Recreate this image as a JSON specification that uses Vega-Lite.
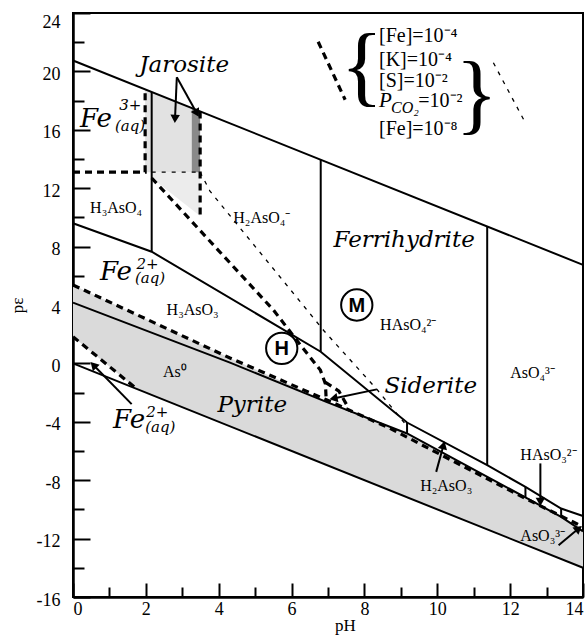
{
  "$schema": "https://vega.github.io/schema/vega-lite/v6.json",
  "width": 510,
  "height": 584,
  "autosize": {"type": "none"},
  "padding": {"left": 73, "top": 13, "right": 5, "bottom": 47},
  "background": "white",
  "config": {
    "view": {"stroke": "black", "strokeWidth": 2},
    "axis": {"domainColor": "black", "domainWidth": 2.5, "tickColor": "black", "tickWidth": 2, "labelColor": "black", "titleColor": "black", "grid": false, "labelFont": "Liberation Serif", "titleFont": "Liberation Serif", "labelFontSize": 18, "titleFontSize": 17, "titleFontWeight": "normal", "labelOverlap": false, "zindex": 1}
  },
  "datasets": {
    "pyr": [
      {"x": 0, "y": 5.37, "y2": 1.83},
      {"x": 1.75, "y": 3.34, "y2": -1.75},
      {"x": 4.31, "y": 0.37, "y2": -4.31},
      {"x": 6.97, "y": -2.6, "y2": -6.97},
      {"x": 9.17, "y": -4.8, "y2": -9.17},
      {"x": 12.42, "y": -9.18, "y2": -12.42},
      {"x": 13.4, "y": -10.51, "y2": -13.4},
      {"x": 14, "y": -11.5, "y2": -14}
    ],
    "jl": [{"x": 1.98, "y": 18.77, "y2": 13.1}, {"x": 3.26, "y": 17.49, "y2": 13.1}],
    "jd": [{"x": 3.26, "y": 17.49, "y2": 13.1}, {"x": 3.49, "y": 17.26, "y2": 13.1}],
    "jlow": [{"x": 2.16, "y": 13.1, "y2": 12.7}, {"x": 3.49, "y": 13.1, "y2": 10.1}],
    "solid": [
      {"id": "top", "o": 0, "x": 0, "y": 20.75}, {"id": "top", "o": 1, "x": 14, "y": 6.75},
      {"id": "water", "o": 0, "x": 0, "y": 0}, {"id": "water", "o": 1, "x": 14, "y": -14},
      {"id": "as5", "o": 0, "x": 0, "y": 9.6}, {"id": "as5", "o": 1, "x": 2.16, "y": 7.65}, {"id": "as5", "o": 2, "x": 6.8, "y": 0.8}, {"id": "as5", "o": 3, "x": 9.17, "y": -4.05}, {"id": "as5", "o": 4, "x": 11.37, "y": -6.97}, {"id": "as5", "o": 5, "x": 12.42, "y": -8.46}, {"id": "as5", "o": 6, "x": 13.4, "y": -9.94}, {"id": "as5", "o": 7, "x": 14, "y": -10.45},
      {"id": "as0", "o": 0, "x": 0, "y": 4.16}, {"id": "as0", "o": 1, "x": 4.31, "y": 0.05}, {"id": "as0", "o": 2, "x": 6.97, "y": -2.65}, {"id": "as0", "o": 3, "x": 9.17, "y": -4.8}, {"id": "as0", "o": 4, "x": 12.42, "y": -9.18}, {"id": "as0", "o": 5, "x": 13.4, "y": -10.51}, {"id": "as0", "o": 6, "x": 14, "y": -11.5},
      {"id": "v1", "o": 0, "x": 2.16, "y": 18.59}, {"id": "v1", "o": 1, "x": 2.16, "y": 7.65},
      {"id": "v2", "o": 0, "x": 6.8, "y": 13.95}, {"id": "v2", "o": 1, "x": 6.8, "y": 0.8},
      {"id": "v3", "o": 0, "x": 11.37, "y": 9.38}, {"id": "v3", "o": 1, "x": 11.37, "y": -6.97},
      {"id": "v4", "o": 0, "x": 9.17, "y": -4.05}, {"id": "v4", "o": 1, "x": 9.17, "y": -4.8},
      {"id": "v5", "o": 0, "x": 12.42, "y": -8.46}, {"id": "v5", "o": 1, "x": 12.42, "y": -9.18},
      {"id": "v6", "o": 0, "x": 13.4, "y": -9.94}, {"id": "v6", "o": 1, "x": 13.4, "y": -10.51}
    ],
    "thick": [
      {"id": "fe3", "o": 0, "x": 0, "y": 13.1}, {"id": "fe3", "o": 1, "x": 1.98, "y": 13.1}, {"id": "fe3", "o": 2, "x": 1.98, "y": 18.77},
      {"id": "jr", "o": 0, "x": 3.49, "y": 17.26}, {"id": "jr", "o": 1, "x": 3.49, "y": 10.1},
      {"id": "diag", "o": 0, "x": 2.16, "y": 12.7}, {"id": "diag", "o": 1, "x": 5.5, "y": 3.66}, {"id": "diag", "o": 2, "x": 6.28, "y": 1.14}, {"id": "diag", "o": 3, "x": 6.79, "y": -0.46}, {"id": "diag", "o": 4, "x": 6.93, "y": -1.4}, {"id": "diag", "o": 5, "x": 6.95, "y": -2.5},
      {"id": "sid", "o": 0, "x": 6.93, "y": -1.3}, {"id": "sid", "o": 1, "x": 7.3, "y": -1.9}, {"id": "sid", "o": 2, "x": 7.55, "y": -3.0},
      {"id": "pyt", "o": 0, "x": 0, "y": 5.37}, {"id": "pyt", "o": 1, "x": 4.31, "y": 0.37}, {"id": "pyt", "o": 2, "x": 6.97, "y": -2.51}, {"id": "pyt", "o": 3, "x": 8.7, "y": -4.45}, {"id": "pyt", "o": 4, "x": 12.42, "y": -9.25}, {"id": "pyt", "o": 5, "x": 13.84, "y": -11.0}, {"id": "pyt", "o": 6, "x": 14, "y": -11.2},
      {"id": "pyl", "o": 0, "x": 0, "y": 1.83}, {"id": "pyl", "o": 1, "x": 1.75, "y": -1.75},
      {"id": "leg", "o": 0, "x": 6.73, "y": 22.03}, {"id": "leg", "o": 1, "x": 7.47, "y": 18.06}
    ],
    "thin": [
      {"id": "jh", "o": 0, "x": 2.16, "y": 13.1}, {"id": "jh", "o": 1, "x": 3.49, "y": 13.1},
      {"id": "td", "o": 0, "x": 3.49, "y": 13.1}, {"id": "td", "o": 1, "x": 3.76, "y": 11.8}, {"id": "td", "o": 2, "x": 5.69, "y": 5.9}, {"id": "td", "o": 3, "x": 6.9, "y": 2.2}, {"id": "td", "o": 4, "x": 8.35, "y": -1.8}, {"id": "td", "o": 5, "x": 9.17, "y": -4.3},
      {"id": "leg2", "o": 0, "x": 11.54, "y": 20.59}, {"id": "leg2", "o": 1, "x": 12.42, "y": 16.47}
    ],
    "arrows": [
      {"x": 2.8, "y": 16.75, "x2": 2.85, "y2": 19.6},
      {"x": 3.4, "y": 17.14, "x2": 2.85, "y2": 19.6},
      {"x": 7.15, "y": -2.4, "x2": 8.34, "y2": -1.78},
      {"x": 0.56, "y": -0.11, "x2": 1.61, "y2": -2.79},
      {"x": 10.17, "y": -5.6, "x2": 9.97, "y2": -7.43},
      {"x": 12.83, "y": -9.49, "x2": 12.83, "y2": -6.85},
      {"x": 13.88, "y": -11.31, "x2": 13.33, "y2": -12.45}
    ],
    "circles": [{"x": 5.73, "y": 1.03, "t": "H"}, {"x": 7.79, "y": 4.0, "t": "M"}],
    "ital": [
      {"x": 3.05, "y": 19.93, "t": "Jarosite"},
      {"x": 9.09, "y": 7.98, "t": "Ferrihydrite"},
      {"x": 9.82, "y": -2.01, "t": "Siderite"},
      {"x": 4.92, "y": -3.32, "t": "Pyrite"}
    ],
    "feBig": [
      {"x": 0.19, "y": 16.2, "t": "Fe"},
      {"x": 0.74, "y": 5.71, "t": "Fe"},
      {"x": 1.1, "y": -4.43, "t": "Fe"}
    ],
    "feSup": [
      {"x": 1.27, "y": 17.35, "t": "3+"},
      {"x": 1.74, "y": 6.5, "t": "2+"},
      {"x": 2.01, "y": -3.65, "t": "2+"}
    ],
    "feSub": [
      {"x": 1.15, "y": 15.9, "t": "(aq)"},
      {"x": 1.7, "y": 5.5, "t": "(aq)"},
      {"x": 1.98, "y": -4.7, "t": "(aq)"}
    ],
    "spec": [
      {"x": 0.47, "y": 10.29, "t": "H₃AsO₄"},
      {"x": 4.4, "y": 9.64, "t": "H₂AsO₄⁻"},
      {"x": 2.57, "y": 3.32, "t": "H₃AsO₃"},
      {"x": 2.47, "y": -0.94, "t": "As⁰"},
      {"x": 8.43, "y": 2.29, "t": "HAsO₄²⁻"},
      {"x": 12.0, "y": -1.03, "t": "AsO₄³⁻"},
      {"x": 9.53, "y": -8.73, "t": "H₂AsO₃"},
      {"x": 12.28, "y": -6.65, "t": "HAsO₃²⁻"},
      {"x": 12.28, "y": -12.16, "t": "AsO₃³⁻"}
    ],
    "leg": [
      {"x": 8.4, "y": 21.99, "t": "[Fe]=10⁻⁴"},
      {"x": 8.4, "y": 20.39, "t": "[K]=10⁻⁴"},
      {"x": 8.4, "y": 18.94, "t": "[S]=10⁻²"},
      {"x": 9.48, "y": 17.58, "t": "=10⁻²"},
      {"x": 8.4, "y": 15.66, "t": "[Fe]=10⁻⁸"}
    ],
    "legP": [{"x": 8.4, "y": 17.58, "t": "P"}],
    "legCO": [{"x": 8.73, "y": 17.16, "t": "CO₂"}],
    "braces": [
      {"x": 7.93, "y": 18.4, "t": "{"},
      {"x": 11.08, "y": 16.45, "t": "}"}
    ]
  },
  "encoding": {
    "x": {"field": "x", "type": "quantitative", "scale": {"domain": [0, 14], "nice": false, "zero": false},
      "axis": {"title": "pH", "values": [0,1,2,3,4,5,6,7,8,9,10,11,12,13,14],
        "labelExpr": "datum.value % 2 === 0 ? '' + datum.value : ''",
        "tickSize": {"condition": {"test": "datum.value % 2 === 0", "value": -14}, "value": -10},
        "labelPadding": 17, "labelFlush": true, "titleX": 272, "titleY": 20}},
    "y": {"field": "y", "type": "quantitative", "scale": {"domain": [-16, 24], "nice": false, "zero": false},
      "axis": {"title": "pε", "values": [-16,-14,-12,-10,-8,-6,-4,-2,0,2,4,6,8,10,12,14,16,18,20,22,24],
        "labelExpr": "datum.value % 4 === 0 ? '' + datum.value : ''",
        "tickSize": {"condition": {"test": "datum.value % 4 === 0", "value": -17}, "value": -11},
        "labelPadding": 30,
        "labelOffset": {"condition": {"test": "datum.value === 24", "value": 9}, "value": 3},
        "labelFlush": false, "titlePadding": 10}}
  },
  "layer": [
    {"data": {"name": "pyr"}, "mark": {"type": "area", "color": "#dadada"}, "encoding": {"y2": {"field": "y2"}}},
    {"data": {"name": "jl"}, "mark": {"type": "area", "color": "#e2e2e2"}, "encoding": {"y2": {"field": "y2"}}},
    {"data": {"name": "jlow"}, "mark": {"type": "area", "color": "#ececec"}, "encoding": {"y2": {"field": "y2"}}},
    {"data": {"name": "jd"}, "mark": {"type": "area", "color": "#8a8a8a"}, "encoding": {"y2": {"field": "y2"}}},
    {"data": {"name": "solid"}, "mark": {"type": "line", "color": "black", "strokeWidth": 2, "strokeJoin": "miter"},
      "encoding": {"detail": {"field": "id"}, "order": {"field": "o", "type": "quantitative"}}},
    {"data": {"name": "thick"}, "mark": {"type": "line", "color": "black", "strokeWidth": 3.2, "strokeDash": [7, 5]},
      "encoding": {"detail": {"field": "id"}, "order": {"field": "o", "type": "quantitative"}}},
    {"data": {"name": "thin"}, "mark": {"type": "line", "color": "black", "strokeWidth": 1.3, "strokeDash": [4, 6]},
      "encoding": {"detail": {"field": "id"}, "order": {"field": "o", "type": "quantitative"}}},
    {"data": {"name": "arrows"}, "mark": {"type": "rule", "color": "black", "strokeWidth": 2},
      "encoding": {"x2": {"field": "x2"}, "y2": {"field": "y2"}}},
    {"data": {"name": "arrows"},
      "transform": [{"calculate": "atan2((datum.x - datum.x2) * width / 14, (datum.y - datum.y2) * height / 40) * 180 / PI", "as": "ang"}],
      "mark": {"type": "point", "shape": "triangle-up", "filled": true, "color": "black", "size": 90, "opacity": 1},
      "encoding": {"angle": {"field": "ang", "type": "quantitative", "scale": null}}},
    {"data": {"name": "circles"}, "mark": {"type": "point", "shape": "circle", "filled": true, "fill": "white", "stroke": "black", "strokeWidth": 2, "size": 980, "opacity": 1}},
    {"data": {"name": "circles"}, "mark": {"type": "text", "font": "Liberation Sans", "fontWeight": "bold", "fontSize": 20, "align": "center", "baseline": "middle", "dy": 1, "color": "black"},
      "encoding": {"text": {"field": "t"}}},
    {"data": {"name": "ital"}, "mark": {"type": "text", "font": "DejaVu Serif", "fontStyle": "italic", "fontSize": 23, "align": "center", "baseline": "alphabetic", "color": "black"},
      "encoding": {"text": {"field": "t"}}},
    {"data": {"name": "feBig"}, "mark": {"type": "text", "font": "DejaVu Serif", "fontStyle": "italic", "fontSize": 26, "align": "left", "baseline": "alphabetic", "color": "black"},
      "encoding": {"text": {"field": "t"}}},
    {"data": {"name": "feSup"}, "mark": {"type": "text", "font": "DejaVu Serif", "fontStyle": "italic", "fontSize": 15, "align": "left", "baseline": "alphabetic", "color": "black"},
      "encoding": {"text": {"field": "t"}}},
    {"data": {"name": "feSub"}, "mark": {"type": "text", "font": "DejaVu Serif", "fontStyle": "italic", "fontSize": 15, "align": "left", "baseline": "alphabetic", "color": "black"},
      "encoding": {"text": {"field": "t"}}},
    {"data": {"name": "spec"}, "mark": {"type": "text", "font": "Liberation Serif", "fontSize": 16, "align": "left", "baseline": "alphabetic", "color": "black"},
      "encoding": {"text": {"field": "t"}}},
    {"data": {"name": "leg"}, "mark": {"type": "text", "font": "Liberation Serif", "fontSize": 20, "align": "left", "baseline": "alphabetic", "color": "black"},
      "encoding": {"text": {"field": "t"}}},
    {"data": {"name": "legP"}, "mark": {"type": "text", "font": "Liberation Serif", "fontStyle": "italic", "fontSize": 21, "align": "left", "baseline": "alphabetic", "color": "black"},
      "encoding": {"text": {"field": "t"}}},
    {"data": {"name": "legCO"}, "mark": {"type": "text", "font": "Liberation Serif", "fontStyle": "italic", "fontSize": 16, "align": "left", "baseline": "alphabetic", "color": "black"},
      "encoding": {"text": {"field": "t"}}},
    {"data": {"name": "braces"}, "mark": {"type": "text", "font": "Liberation Serif", "fontSize": 88, "align": "center", "baseline": "alphabetic", "color": "black"},
      "encoding": {"text": {"field": "t"}}}
  ]
}
